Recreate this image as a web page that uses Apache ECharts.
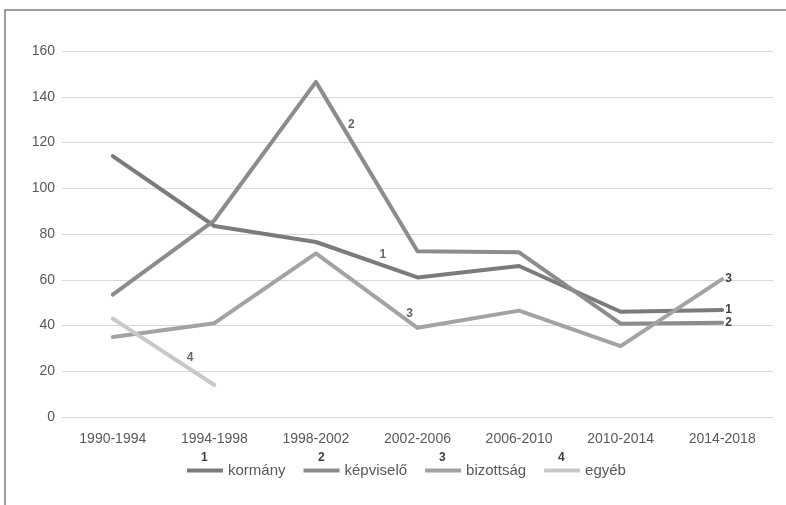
<!DOCTYPE html>
<html>
<head>
<meta charset="utf-8">
<script src="https://cdn.jsdelivr.net/npm/echarts@6/dist/echarts.min.js"></script>
<style>
  html, body { margin: 0; padding: 0; background: #fff; }
  #chart { width: 786px; height: 505px; }
</style>
</head>
<body>
<div id="chart"></div>
<script>
// Election periods on the x axis
const periods = ['1990-1994', '1994-1998', '1998-2002', '2002-2006', '2006-2010', '2010-2014', '2014-2018'];

// Counts per initiator
const kormany    = [114, 83.5, 76.5, 61, 66, 46, 46.8];
const kepviselo  = [53.5, 86, 146.5, 72.5, 72, 40.8, 41.2];
const bizottsag  = [35, 41, 71.5, 39, 46.5, 31, 60.3];
const egyeb      = [43, 14, null, null, null, null, null];

const seriesNames = ['kormány', 'képviselő', 'bizottság', 'egyéb'];
const seriesTags  = ['1', '2', '3', '4'];
const yTicks      = [0, 20, 40, 60, 80, 100, 120, 140, 160];

const colors = ['#7b7b7b', '#8c8c8c', '#a3a3a3', '#c8c8c8'];
const FONT = 'Liberation Sans';
const TAG_STYLE = { color: '#404040', fontWeight: 'bold', fontSize: 12, fontFamily: FONT };

// point part-way along a segment of a series, in data units
function along(arr, i, t) {
  return [i + t, arr[i] + (arr[i + 1] - arr[i]) * t];
}

function lineSeries(name, data, color, tag) {
  return {
    name: name,
    type: 'line',
    data: data,
    color: color,
    symbol: 'none',
    connectNulls: false,
    lineStyle: { width: 4, color: color, cap: 'round', join: 'round' },
    label: { show: false },
    endLabel: tag ? Object.assign({ show: true, distance: 3, formatter: tag }, TAG_STYLE) : { show: false },
    animation: false
  };
}

// series tags placed along the lines (continuous x over the category bands)
const tagPoints = [
  { value: along(kormany, 2, 0.5),    tag: seriesTags[0], offset: [16, -5] },
  { value: along(kepviselo, 2, 0.25), tag: seriesTags[1], offset: [10, 0] },
  { value: along(bizottsag, 3, 0),    tag: seriesTags[2], offset: [-8, -14] },
  { value: along(egyeb, 0, 0.75),     tag: seriesTags[3], offset: [1, -11] }
];

const chart = echarts.init(document.getElementById('chart'), null, { renderer: 'canvas' });

// legend tag numbers above each legend swatch
const legendTagX = [205, 322, 443, 562];

chart.setOption({
  backgroundColor: '#ffffff',
  grid: { left: 62, right: 13, top: 51, bottom: 88, containLabel: false },
  xAxis: [{
    type: 'category',
    data: periods,
    boundaryGap: true,
    axisLine: { show: true, lineStyle: { color: '#d9d9d9', width: 1 } },
    axisTick: { show: false },
    axisLabel: { color: '#595959', fontSize: 14, fontFamily: FONT, margin: 15 }
  }, {
    type: 'value',
    show: false,
    min: -0.5,
    max: periods.length - 0.5,
    position: 'bottom'
  }],
  yAxis: {
    type: 'value',
    min: yTicks[0],
    max: yTicks[yTicks.length - 1],
    interval: 20,
    axisLine: { show: false },
    axisTick: { show: false },
    axisLabel: { color: '#595959', fontSize: 14, fontFamily: FONT, margin: 7 },
    splitLine: { lineStyle: { color: '#d9d9d9', width: 1 } }
  },
  legend: {
    bottom: 27,
    left: 187,
    padding: 0,
    icon: 'rect',
    itemWidth: 36,
    itemHeight: 4,
    itemGap: 18,
    textStyle: { color: '#595959', fontSize: 15, fontFamily: FONT },
    data: seriesNames
  },
  series: [
    lineSeries(seriesNames[0], kormany, colors[0], seriesTags[0]),
    lineSeries(seriesNames[1], kepviselo, colors[1], seriesTags[1]),
    lineSeries(seriesNames[2], bizottsag, colors[2], seriesTags[2]),
    lineSeries(seriesNames[3], egyeb, colors[3], null),
    {
      type: 'scatter',
      xAxisIndex: 1,
      symbolSize: 0,
      silent: true,
      animation: false,
      data: tagPoints.map(p => ({
        value: p.value,
        label: Object.assign({ show: true, position: 'inside', formatter: p.tag, offset: p.offset }, TAG_STYLE)
      }))
    }
  ],
  graphic: [
    {
      type: 'rect', silent: true,
      shape: { x: 5, y: 10, width: 800, height: 520 },
      style: { fill: 'none', stroke: '#808080', lineWidth: 1.5 }
    }
  ].concat(seriesTags.map((t, i) => ({
    type: 'text', silent: true,
    left: legendTagX[i] - 4, top: 452,
    style: { text: t, fill: '#404040', font: 'bold 12px ' + FONT }
  })))
});
</script>
</body>
</html>
